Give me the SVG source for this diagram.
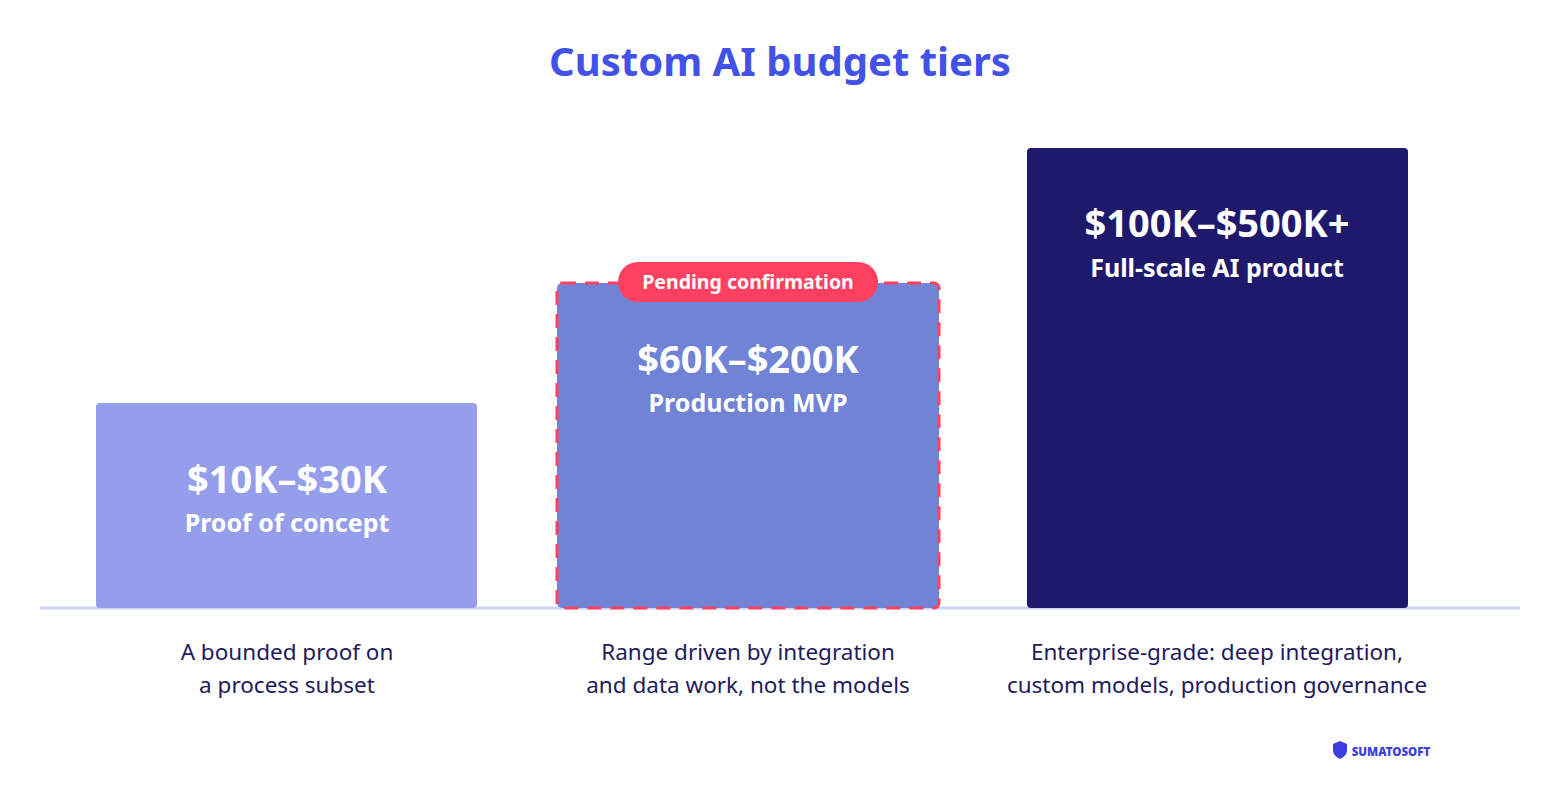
<svg xmlns="http://www.w3.org/2000/svg" width="1560" height="807" viewBox="0 0 1560 807">
<style>
text{font-family:"Noto Sans","Liberation Sans",sans-serif;text-anchor:middle}
.w{fill:#fff;font-weight:bold}
.big{font-size:38px}
.sub{font-size:25px}
.d{fill:#1f1a5c;font-size:22.5px}
</style>
<rect width="1560" height="807" fill="#fff"/>
<text x="780" y="76" fill="#4352e6" font-size="40" font-weight="bold">Custom AI budget tiers</text>
<g id="connectors"><line x1="40" y1="608" x2="1520" y2="608" stroke="#cdd3f7" stroke-width="3"/></g>
<g id="tier1">
<rect x="96" y="403" width="381" height="205" rx="4" fill="#959eeb"/>
<text class="w big" x="287" y="493">$10K–$30K</text>
<text class="w sub" x="287" y="532">Proof of concept</text>
<text class="d" x="287" y="660">A bounded proof on</text>
<text class="d" x="287" y="693">a process subset</text>
</g>
<g id="tier2">
<rect x="557" y="283" width="382" height="325" rx="5" fill="#7083d4" stroke="#ff4060" stroke-width="3" stroke-dasharray="14 9"/>
<rect x="618" y="262" width="260" height="40" rx="20" fill="#ff4060"/>
<text class="w" x="748" y="289" font-size="19.5">Pending confirmation</text>
<text class="w big" x="748" y="373">$60K–$200K</text>
<text class="w sub" x="748" y="412">Production MVP</text>
<text class="d" x="748" y="660">Range driven by integration</text>
<text class="d" x="748" y="693">and data work, not the models</text>
</g>
<g id="tier3">
<rect x="1027" y="148" width="381" height="460" rx="4" fill="#1f196b"/>
<text class="w big" x="1217" y="237">$100K–$500K+</text>
<text class="w sub" x="1217" y="277">Full-scale AI product</text>
<text class="d" x="1217" y="660">Enterprise-grade: deep integration,</text>
<text class="d" x="1217" y="693">custom models, production governance</text>
</g>
<g id="logo">
<path d="M1333 744 l7 -3 l7 3 v6 q0 6 -7 9 q-7 -3 -7 -9z" fill="#3d3fe0"/>
<text x="1391" y="756" fill="#3d3fe0" font-size="11.5" font-weight="900">SUMATOSOFT</text>
</g>
</svg>
